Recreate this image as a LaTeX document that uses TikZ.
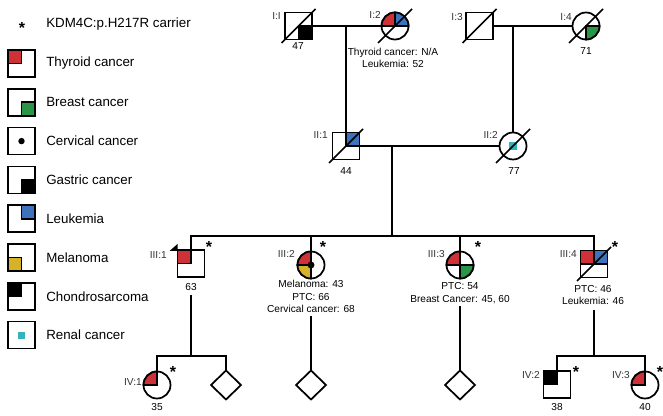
\documentclass[tikz,border=0pt]{standalone}
\usepackage{fontspec}
\setmainfont{Liberation Sans}
\usetikzlibrary{shapes.geometric}
\definecolor{thyroid}{HTML}{CE3238}
\definecolor{breast}{HTML}{289646}
\definecolor{leuk}{HTML}{3E72BE}
\definecolor{melan}{HTML}{D6B228}
\definecolor{renal}{HTML}{35B2BA}
% quarter of a square / of a circle, and the slash of a deceased person
\newcommand{\qbox}[3]{\filldraw[fill=#1, draw=black, line width=1.3pt] (#2.center) rectangle (#2.#3);}
\newcommand{\qpie}[4]{\filldraw[fill=#1, draw=black, line width=1.3pt] (#2.center) -- ++(#3:10.125pt) arc[start angle=#3, end angle=#4, radius=10.125pt] -- cycle;}
\newcommand{\deceased}[1]{\draw[line width=1.3pt] (#1.center) ++(-17,17) -- ++(34,-34);}
\begin{document}
\begin{tikzpicture}[x=0.75pt, y=-0.75pt,
	wire/.style={line width=1.3pt},
	male/.style={shape=rectangle, draw, line width=1.3pt, minimum size=20.25pt, inner sep=0pt, outer sep=0pt},
	female/.style={shape=circle, draw, line width=1.3pt, minimum size=20.25pt, inner sep=0pt, outer sep=0pt},
	unknown/.style={shape=diamond, draw, line width=1.3pt, minimum width=22.5pt, minimum height=21.75pt, inner sep=0pt, outer sep=0pt},
	idlabel/.style={anchor=east, inner sep=0pt, text=black!80, font=\fontsize{7.6}{9}\selectfont},
	note/.style={align=center, inner sep=0pt, font=\fontsize{7.6}{9.3}\selectfont},
	carrier/.style={inner sep=0pt, font=\bfseries\fontsize{12}{12}\selectfont},
	legtext/.style={anchor=west, inner sep=0pt, font=\fontsize{10}{12}\selectfont}]
	\useasboundingbox (0,0) rectangle (663,416);
	% Legend:
	\node[carrier] (Lstar) at (22,28.4) {*};
	\node[legtext] (Lcarrier) at (46,24) {KDM4C:p.H217R carrier};
	\foreach \lab [count=\i] in {Thyroid cancer, Breast cancer, Cervical cancer, Gastric cancer, Leukemia, Melanoma, Chondrosarcoma, Renal cancer}{
		\node[male] (L\i) at (21.5, {24.7+38.8*\i}) {};
		\node[legtext] (Lt\i) at (46, {24.7+38.8*\i}) {\lab};
	}
	\qbox{thyroid}{L1}{north west}
	\qbox{breast}{L2}{south east}
	\fill (L3.center) circle[radius=2.4pt];
	\qbox{black}{L4}{south east}
	\qbox{leuk}{L5}{north east}
	\qbox{melan}{L6}{south west}
	\qbox{black}{L7}{north west}
	\fill[renal] (L8.center) ++(-3.5,-3.5) rectangle ++(7,7);
	% Generation I:
	\node[male] (I1) at (298.5,26) {};
	\node[female] (I2) at (395,26) {};
	\node[male] (I3) at (479.5,26) {};
	\node[female] (I4) at (586,26) {};
	\qbox{black}{I1}{south east}
	\qpie{thyroid}{I2}{90}{180}
	\qpie{leuk}{I2}{0}{90}
	\qpie{breast}{I4}{270}{360}
	\deceased{I1} \deceased{I2} \deceased{I3} \deceased{I4}
	\node[idlabel] (lI1) at (281,16) {I:I};
	\node[idlabel] (lI2) at (381,15) {I:2};
	\node[idlabel] (lI3) at (463,17) {I:3};
	\node[idlabel] (lI4) at (572,17) {I:4};
	\node[note] (aI1) at (298,46) {47};
	\node[note] (nI2) at (393,58) {Thyroid cancer: N/A\\Leukemia: 52};
	\node[note] (aI4) at (586,51.5) {71};
	% Generation II:
	\node[male] (II1) at (346,146) {};
	\node[female] (II2) at (513,146) {};
	\qbox{leuk}{II1}{north east}
	\fill[renal] (II2.center) ++(-4,-4) rectangle ++(8,8);
	\deceased{II1} \deceased{II2}
	\node[idlabel] (lII1) at (328,135) {II:1};
	\node[idlabel] (lII2) at (498,135) {II:2};
	\node[note] (aII1) at (346,171.5) {44};
	\node[note] (aII2) at (514,171.5) {77};
	% Generation III:
	\node[male] (III1) at (191,263.5) {};
	\node[female] (III2) at (311,265) {};
	\node[female] (III3) at (460,265) {};
	\node[male] (III4) at (594,264) {};
	\qbox{thyroid}{III1}{north west}
	\fill (III1.north west) ++(0,1) -- ++(-8,0) -- ++(8,-7) -- cycle;
	\qpie{thyroid}{III2}{90}{180}
	\qpie{melan}{III2}{180}{270}
	\fill (III2.center) circle[radius=2.6pt];
	\qpie{thyroid}{III3}{90}{180}
	\qpie{breast}{III3}{270}{360}
	\qbox{thyroid}{III4}{north west}
	\qbox{leuk}{III4}{north east}
	\deceased{III4}
	\node[idlabel] (lIII1) at (167,255) {III:1};
	\node[idlabel] (lIII2) at (295,254) {III:2};
	\node[idlabel] (lIII3) at (445,254) {III:3};
	\node[idlabel] (lIII4) at (577,254) {III:4};
	\node[note] (aIII1) at (191,287) {63};
	\node[note] (nIII2) at (311,296.5) {Melanoma: 43\\PTC: 66\\Cervical cancer: 68};
	\node[note] (nIII3) at (460,293) {PTC: 54\\Breast Cancer: 45, 60};
	\node[note] (nIII4) at (593,295) {PTC: 46\\Leukemia: 46};
	% Generation IV:
	\node[female] (IV1) at (157,385) {};
	\node[unknown] (D1) at (226,385) {};
	\node[unknown] (D2) at (311,385) {};
	\node[unknown] (D3) at (460,385) {};
	\node[male] (IV2) at (557,384.5) {};
	\node[female] (IV3) at (645,385) {};
	\qpie{thyroid}{IV1}{90}{180}
	\qbox{black}{IV2}{north west}
	\qpie{thyroid}{IV3}{90}{180}
	\node[idlabel] (lIV1) at (142,382) {IV:1};
	\node[idlabel] (lIV2) at (540,375) {IV:2};
	\node[idlabel] (lIV3) at (630,375) {IV:3};
	\node[note] (aIV1) at (157,407) {35};
	\node[note] (aIV2) at (557,407) {38};
	\node[note] (aIV3) at (645,407) {40};
	% Carriers:
	\node[carrier] (sIII1) at (209,247) {*};
	\node[carrier] (sIII2) at (323,247) {*};
	\node[carrier] (sIII3) at (478,247) {*};
	\node[carrier] (sIII4) at (615,247) {*};
	\node[carrier] (sIV1) at (173,371.5) {*};
	\node[carrier] (sIV2) at (576,371.5) {*};
	\node[carrier] (sIV3) at (660,371.5) {*};
	% Paths and wires:
	\coordinate (s3) at (392,236);
	\coordinate (c1) at (191,295);
	\coordinate (s4a) at (191,356);
	\coordinate (c2) at (311,316);
	\coordinate (c3) at (460,306);
	\coordinate (c4) at (594,310);
	\coordinate (s4b) at (594,356);
	\draw[wire] (I1) -- (I2);
	\draw[wire] (I3) -- (I4);
	\draw[wire] (II1) -- (II2);
	\draw[wire] (II1.north) -- (II1.north |- I1.east);
	\draw[wire] (II2.north) -- (II2.north |- I3.east);
	\draw[wire] (s3) -- (s3 |- II1.east);
	\draw[wire] (III1.north) |- (III4.north |- s3) -- (III4.north);
	\draw[wire] (III2.north) -- (III2.north |- s3);
	\draw[wire] (III3.north) -- (III3.north |- s3);
	\draw[wire] (c1) -- (s4a);
	\draw[wire] (IV1.north) |- (D1.north |- s4a) -- (D1.north);
	\draw[wire] (c2) -- (D2.north);
	\draw[wire] (c3) -- (D3.north);
	\draw[wire] (c4) -- (s4b);
	\draw[wire] (IV2.north) |- (IV3.north |- s4b) -- (IV3.north);
\end{tikzpicture}
\end{document}
